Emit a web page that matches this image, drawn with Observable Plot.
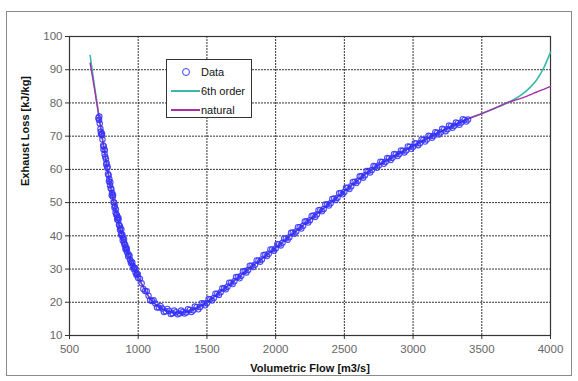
<!DOCTYPE html>
<html>
<head>
<meta charset="utf-8">
<script src="https://cdn.jsdelivr.net/npm/d3@7"></script>
<script src="https://cdn.jsdelivr.net/npm/@observablehq/plot@0.6"></script>
<style>
  html, body { margin: 0; padding: 0; background: #fff; }
  #wrap { position: relative; width: 578px; height: 381px; font-family: "Liberation Sans", Arial, sans-serif; }
  #border { position: absolute; left: 6px; top: 11px; width: 566px; height: 365px; border: 1px solid #8a8a8a; box-sizing: border-box; pointer-events: none; }
  #legend { position: absolute; left: 166px; top: 59px; width: 86px; height: 59px; border: 1px solid #333; background: #fff; box-sizing: border-box; font-size: 11px; color: #111; }
  .li { position: absolute; left: 0; height: 14px; width: 86px; }
  .li span.t { position: absolute; left: 34px; top: 0; line-height: 14px; }
  .li span.sw { position: absolute; left: 4px; top: 6px; width: 29px; height: 0; border-top: 2px solid; }
  .li span.c { position: absolute; left: 15px; top: 3px; width: 6px; height: 6px; border: 1.3px solid #3a3aff; border-radius: 50%; }
  svg text { font-family: "Liberation Sans", Arial, sans-serif; }
</style>
</head>
<body>
<div id="wrap">
  <div id="chart"></div>
  <div id="border"></div>
  <div id="legend">
    <div class="li" style="top:5px"><span class="c"></span><span class="t">Data</span></div>
    <div class="li" style="top:24px"><span class="sw" style="border-color:#3bb8aa"></span><span class="t">6th order</span></div>
    <div class="li" style="top:43px"><span class="sw" style="border-color:#a82fa8"></span><span class="t">natural</span></div>
  </div>
</div>
<script>
// Tick labels
const xTicks = [500, 1000, 1500, 2000, 2500, 3000, 3500, 4000];
const yTicks = [10, 20, 30, 40, 50, 60, 70, 80, 90, 100];

// Measured data (volumetric flow, exhaust loss) - first run
const dataX = [710,715,720,725,730,735,740,745,750,755,760,765,770,775,780,785,790,795,800,805,810,815,820,825,830,835,840,845,850,855,860,865,870,875,880,885,890,895,900,905,910,915,920,930,940,950,960,970,980,990,1000,
  1025,1050,1075,1100,1125,1150,1175,1200,1225,1250,1275,1300,1325,1350,1375,1400,1425,1450,1475,1500,1525,1550,1575,1600,1625,1650,1675,1700,1725,1750,1775,1800,1825,1850,1875,1900,1925,1950,1975,2000,
  2025,2050,2075,2100,2125,2150,2175,2200,2225,2250,2275,2300,2325,2350,2375,2400,2425,2450,2475,2500,2525,2550,2575,2600,2625,2650,2675,2700,2725,2750,2775,2800,2825,2850,2875,2900,2925,2950,2975,3000,
  3025,3050,3075,3100,3125,3150,3175,3200,3225,3250,3275,3300,3325,3350,3375,3400];
const dataY = [75.5,74.9,73.8,72.2,70.6,70.3,69.0,67.2,66.9,64.6,63.8,63.1,61.9,60.4,58.6,58.2,57.1,55.2,54.3,54.0,52.9,51.8,50.1,50.0,49.0,47.0,46.4,46.2,45.6,44.7,43.3,43.0,42.4,40.6,40.0,40.3,39.4,38.1,37.3,37.4,36.6,35.6,35.0,34.4,32.8,32.3,30.9,30.4,29.0,28.6,27.3,
  25.7,23.4,22.0,20.4,19.6,18.4,18.1,17.3,17.4,16.7,17.0,16.6,17.1,16.9,17.7,17.6,18.5,18.6,19.6,19.8,20.9,21.3,22.6,23.0,24.2,24.7,25.9,26.3,27.6,28.0,29.4,29.7,31.0,31.3,32.6,32.9,34.3,34.6,35.9,36.2,
  37.5,37.9,39.2,39.6,41.0,41.3,42.6,43.0,44.4,44.7,46.1,46.4,47.8,48.1,49.5,49.8,51.2,51.5,52.9,53.2,54.5,54.9,56.3,56.6,57.9,58.2,59.5,59.8,60.9,61.2,62.2,62.3,63.3,63.5,64.5,64.6,65.6,65.7,66.8,66.8,
  67.8,67.9,68.9,69.0,70.0,70.1,71.0,71.1,72.0,72.1,73.0,73.1,73.9,74.1,74.9,75.0];

// Measured data - second run
const data2X = [717,727,737,747,757,767,777,787,797,807,817,827,837,847,857,867,877,887,897,907,917,927,937,947,957,967,977,987,997,
  1012,1037,1062,1087,1112,1137,1162,1187,1212,1237,1262,1287,1312,1337,1362,1387,1412,1437,1462,1487,1512,1537,1562,1587,1612,1637,1662,1687,1712,1737,1762,1787,1812,1837,1862,1887,1912,1937,1962,1987,
  2012,2037,2062,2087,2112,2137,2162,2187,2212,2237,2262,2287,2312,2337,2362,2387,2412,2437,2462,2487,2512,2537,2562,2587,2612,2637,2662,2687,2712,2737,2762,2787,2812,2837,2862,2887,2912,2937,2962,2987,
  3012,3037,3062,3087,3112,3137,3162,3187,3212,3237,3262,3287,3312,3337,3362,3387];
const data2Y = [75.9,71.3,70.8,66.0,65.8,61.5,60.8,56.4,56.1,52.2,52.3,48.5,48.0,44.9,45.3,41.8,41.9,38.7,38.9,36.0,36.2,33.8,34.0,31.8,32.0,30.0,30.3,28.2,28.4,
  27.1,24.0,23.3,20.6,20.6,18.4,18.9,17.1,18.0,16.5,17.5,16.4,17.5,16.6,17.9,17.1,18.7,17.9,19.7,19.1,21.0,20.5,22.6,22.2,24.2,23.9,25.9,25.5,27.6,27.2,29.3,29.0,31.0,30.6,32.6,32.2,34.2,33.9,35.9,35.5,
  37.5,37.1,39.2,38.8,40.9,40.6,42.6,42.2,44.3,44.0,46.0,45.7,47.7,47.4,49.4,49.1,51.1,50.8,52.8,52.5,54.5,54.1,56.2,55.9,57.9,57.5,59.5,59.1,61.0,60.5,62.3,61.7,63.4,62.8,64.6,64.0,65.7,65.1,66.9,66.2,
  67.9,67.3,69.0,68.4,70.1,69.5,71.2,70.5,72.2,71.5,73.2,72.5,74.1,73.4,75.1,74.4];

// Fitted curves
const fitX = [650,675,700,750,780,820,850,880,920,970,1000,1050,1090,1150,1200,1250,1300,1350,1400,1450,1500,1600,1700,1800,1900,2000,2100,2200,2300,2400,2500,2600,2700,2800,2900,3000,3100,3200,3300,3400,3500,3600,3700,3750,3800,3850,3900,3950,4000];
const naturalY = [92.0,86.0,79.5,66.5,59.0,50.5,45.2,40.3,35.2,30.2,27.6,23.6,20.9,18.6,17.5,16.9,16.8,17.1,17.8,18.8,20.0,23.2,26.5,29.9,33.1,36.4,39.8,43.2,46.6,50.0,53.4,56.8,60.0,62.5,64.8,67.0,69.2,71.3,73.3,75.2,76.8,78.5,80.3,80.9,81.6,82.4,83.3,84.1,85.0];
const sixthY = [94.3,87.0,80.0,66.5,59.0,50.5,45.2,40.3,35.2,30.2,27.6,23.6,20.9,18.6,17.5,16.9,16.8,17.1,17.8,18.8,20.0,23.2,26.5,29.9,33.1,36.4,39.8,43.2,46.6,50.0,53.4,56.8,60.0,62.5,64.8,67.0,69.2,71.3,73.3,75.2,76.8,78.5,80.3,81.4,82.8,84.6,87.0,90.5,95.3];

const pts = dataX.map((x, i) => ({x, y: dataY[i]})).concat(data2X.map((x, i) => ({x, y: data2Y[i]})));
const nat = fitX.map((x, i) => ({x, y: naturalY[i]}));
const six = fitX.map((x, i) => ({x, y: sixthY[i]}));

const chart = Plot.plot({
  width: 578,
  height: 381,
  marginLeft: 69,
  marginRight: 28,
  marginTop: 36,
  marginBottom: 46,
  style: {background: "transparent", fontSize: "11.5px", fontFamily: "Liberation Sans, Arial, sans-serif"},
  x: {domain: [500, 4000]},
  y: {domain: [10, 100]},
  marks: [
    Plot.ruleX(xTicks, {stroke: "#333", strokeWidth: 1, strokeDasharray: "2,1"}),
    Plot.ruleY(yTicks, {stroke: "#333", strokeWidth: 1, strokeDasharray: "2,1"}),
    Plot.frame({stroke: "#333", strokeWidth: 1.2}),
    Plot.axisX({ticks: xTicks, tickSize: 4, tickPadding: 5, stroke: "#333", fill: "#666", label: null, tickFormat: d => String(d)}),
    Plot.axisY({ticks: yTicks, tickSize: 4, tickPadding: 3, stroke: "#333", fill: "#666", label: null, tickFormat: d => String(d)}),
    Plot.line(six, {x: "x", y: "y", stroke: "#3bb8aa", strokeWidth: 1.6, curve: "catmull-rom"}),
    Plot.line(nat, {x: "x", y: "y", stroke: "#a82fa8", strokeWidth: 1.4, curve: "catmull-rom"}),
    Plot.dot(pts, {x: "x", y: "y", r: 2.7, stroke: "#2f2fff", strokeWidth: 1.1, fill: "none", strokeOpacity: 0.85}),
    Plot.text(["Volumetric Flow [m3/s]"], {frameAnchor: "bottom", dy: 36, fontWeight: "bold", fontSize: 11, fill: "#111"}),
    Plot.text(["Exhaust Loss [kJ/kg]"], {frameAnchor: "left", dx: -44, rotate: -90, fontWeight: "bold", fontSize: 11, fill: "#111"})
  ]
});
document.getElementById("chart").appendChild(chart);
</script>
</body>
</html>
